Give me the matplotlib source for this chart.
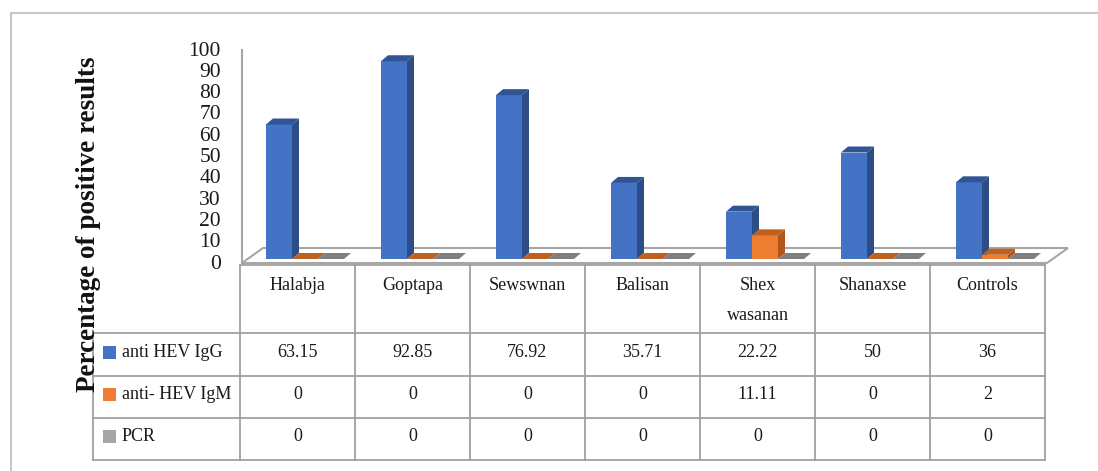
import matplotlib.pyplot as plt
from matplotlib.patches import Polygon, Rectangle
from matplotlib.lines import Line2D

# Seroprevalence by district
sites = ["Halabja", "Goptapa", "Sewswnan", "Balisan", "Shex\nwasanan", "Shanaxse", "Controls"]
igg = [63.15, 92.85, 76.92, 35.71, 22.22, 50, 36]
igm = [0, 0, 0, 0, 11.11, 0, 2]
pcr = [0, 0, 0, 0, 0, 0, 0]
series_names = ["anti HEV IgG", "anti- HEV IgM", "PCR"]
igg_labels = ["63.15", "92.85", "76.92", "35.71", "22.22", "50", "36"]
igm_labels = ["0", "0", "0", "0", "11.11", "0", "2"]
pcr_labels = ["0", "0", "0", "0", "0", "0", "0"]

plt.rcParams["font.family"] = ["Liberation Serif", "DejaVu Serif"]

W, H = 1098, 471
fig = plt.figure(figsize=(W / 100, H / 100), dpi=100)

def fx(px):
    return px / W

def fy(py):
    return 1 - py / H

# outer frame (top and left edges only)
fig.add_artist(Line2D([fx(11), fx(11)], [fy(13), 0], color="#c8c8c8", lw=1.5))
fig.add_artist(Line2D([fx(11), 1], [fy(13), fy(13)], color="#c8c8c8", lw=1.5))

# ---- 3D style bar area ----
px_x = 115.0   # pixels per category
px_y = 2.13    # pixels per percent
ylo, yhi = -2, 103
bottom_px = 263 - ylo * px_y
top_px = 263 - yhi * px_y
ax = fig.add_axes([fx(240), fy(bottom_px), fx(1070) - fx(240), (bottom_px - top_px) / H])
ax.set_xlim(0, 830 / px_x)
ax.set_ylim(ylo, yhi)
ax.axis("off")

grid_col = "#a6a6a6"
floor_dx = 21 / px_x
floor_dy = 15 / px_y
x0 = 2 / px_x
x1 = 807 / px_x
floor = Polygon([(x0, 0), (x1, 0), (x1 + floor_dx, floor_dy), (x0 + floor_dx, floor_dy)],
                closed=True, facecolor="white", edgecolor=grid_col, lw=1.5, zorder=1)
ax.add_patch(floor)
ax.plot([x0, x0], [0, 100], color=grid_col, lw=1.5, zorder=1)

for t in range(0, 101, 10):
    ax.text(-19 / px_x, t - 0.5, str(t), ha="right", va="center", fontsize=15.5, color="#1a1a1a")

bar_w = 26 / px_x
dep_x = 7 / px_x
dep_y = 6 / px_y
base = 4 / px_y
shift = 26 / px_x

face_cols = ["#4472c4", "#ed7d31", "#a5a5a5"]
side_cols = ["#2c4d85", "#b0561a", "#707070"]
top_cols = ["#2f5597", "#c0601f", "#7f7f7f"]

def draw_bar(left, h, k):
    b = base
    t = base + h
    if h > 0:
        ax.add_patch(Polygon([(left, b), (left + bar_w, b), (left + bar_w, t), (left, t)],
                             closed=True, facecolor=face_cols[k], edgecolor="none", zorder=3))
        ax.add_patch(Polygon([(left + bar_w, b), (left + bar_w + dep_x, b + dep_y),
                              (left + bar_w + dep_x, t + dep_y), (left + bar_w, t)],
                             closed=True, facecolor=side_cols[k], edgecolor="none", zorder=3))
    ax.add_patch(Polygon([(left, t), (left + bar_w, t), (left + bar_w + dep_x, t + dep_y),
                          (left + dep_x, t + dep_y)],
                         closed=True, facecolor=top_cols[k], edgecolor="none", zorder=3))

for i in range(len(sites)):
    for k, vals in enumerate([igg, igm, pcr]):
        draw_bar(i + shift + k * bar_w, vals[i], k)

# ---- data table ----
tab = fig.add_axes([fx(93), fy(460), fx(1045) - fx(93), (460 - 265) / H])
hdr_w = 147 / px_x
tab.set_xlim(-hdr_w, len(sites))
tab.set_ylim(195, 0)
tab.axis("off")

line_col = "#a0a0a0"
tab.plot([0, len(sites)], [0, 0], color=line_col, lw=1.3, clip_on=False)
for yb in [68, 111, 153, 195]:
    tab.plot([-hdr_w, len(sites)], [yb, yb], color=line_col, lw=1.3, clip_on=False)
for xb in range(len(sites) + 1):
    tab.plot([xb, xb], [0, 195], color=line_col, lw=1.3, clip_on=False)
tab.plot([-hdr_w, -hdr_w], [68, 195], color=line_col, lw=1.3, clip_on=False)

for i, name in enumerate(sites):
    for j, part in enumerate(name.split("\n")):
        tab.text(i + 0.5, 25 + 30 * j, part, ha="center", va="baseline", fontsize=13, color="#1a1a1a")

baselines = [92, 134, 176]
for r, labels in enumerate([igg_labels, igm_labels, pcr_labels]):
    yb = baselines[r]
    tab.add_patch(Rectangle((-hdr_w + 10 / px_x, yb - 11), 13 / px_x, 13,
                            facecolor=face_cols[r], edgecolor="none", clip_on=False))
    tab.text(-hdr_w + 29 / px_x, yb, series_names[r], ha="left", va="baseline",
             fontsize=13, color="#1a1a1a")
    for i, lab in enumerate(labels):
        tab.text(i + 0.5, yb, lab, ha="center", va="baseline", fontsize=13, color="#1a1a1a")

fig.text(fx(89), fy(224), "Percentage of positive results", rotation=90, ha="center",
         va="center", fontsize=19.5, fontweight="bold", color="#111111")

fig.savefig("out.png", dpi=100)
